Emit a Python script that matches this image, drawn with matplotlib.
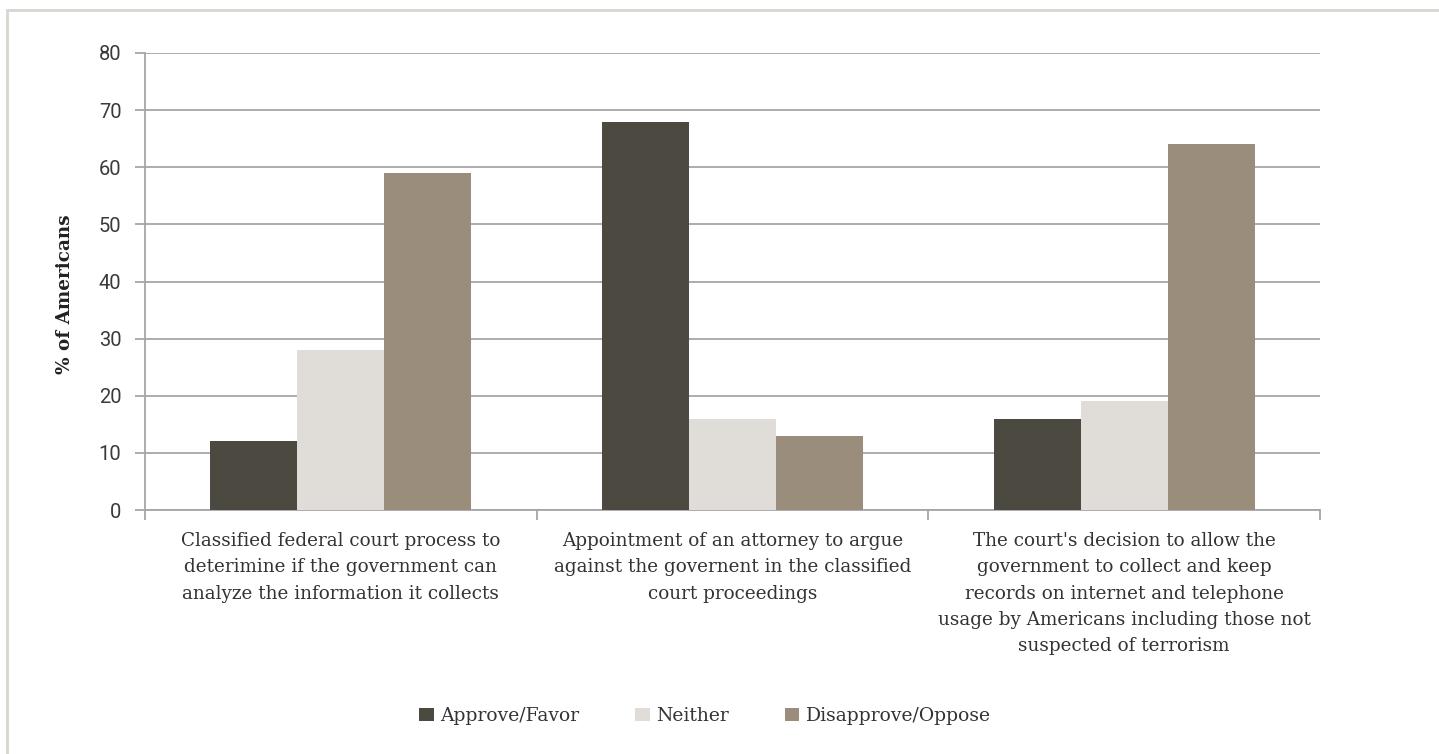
import matplotlib
matplotlib.use("Agg")
import matplotlib.pyplot as plt
import numpy as np
from matplotlib.patches import Rectangle

categories = [
    "Classified federal court process to\ndeterimine if the government can\nanalyze the information it collects",
    "Appointment of an attorney to argue\nagainst the governent in the classified\ncourt proceedings",
    "The court's decision to allow the\ngovernment to collect and keep\nrecords on internet and telephone\nusage by Americans including those not\nsuspected of terrorism",
]
series_names = ["Approve/Favor", "Neither", "Disapprove/Oppose"]
approve = [12, 68, 16]
neither = [28, 16, 19]
disapprove = [59, 13, 64]
yticks = [0, 10, 20, 30, 40, 50, 60, 70, 80]

colors = ["#4b4940", "#e0ddd8", "#9a8d7c"]
grid_c = "#a6a6a6"
serif = ["DejaVu Serif"]

fig = plt.figure(figsize=(14.39, 7.54), dpi=100)
fig.patch.set_facecolor("white")
W, H = 1439, 754
ax = fig.add_axes([145 / W, 1 - 510 / H, (1320 - 145) / W, (510 - 53) / H])

x = np.arange(len(categories))
bw = 0.222
for i, (vals, name) in enumerate(zip([approve, neither, disapprove], series_names)):
    ax.bar(x + (i - 1) * bw, vals, width=bw, color=colors[i], label=name, zorder=3)

ax.set_ylim(0, 80)
ax.set_xlim(-0.5, 2.5)
ax.set_yticks(yticks)
ax.set_yticklabels([str(v) for v in yticks], family="Roboto", fontweight="normal",
                   fontsize=14.5, color="#3a3a3a")
ax.yaxis.grid(True, color=grid_c, linewidth=1.3, zorder=0)
ax.set_axisbelow(True)
for s in ["top", "right"]:
    ax.spines[s].set_visible(False)
ax.spines["left"].set_color(grid_c)
ax.spines["left"].set_linewidth(1.3)
ax.spines["bottom"].set_color(grid_c)
ax.spines["bottom"].set_linewidth(1.3)
ax.tick_params(axis="y", length=7, width=1.3, color=grid_c, pad=10)

# x ticks at category boundaries
ax.set_xticks([-0.5, 0.5, 1.5, 2.5])
ax.set_xticklabels([])
ax.tick_params(axis="x", length=7, width=1.3, color=grid_c)
for xi, lab in zip(x, categories):
    ax.text(xi, -3.8, lab, ha="center", va="top", family=serif, fontsize=13.2,
            color="#333333", linespacing=1.6, transform=ax.transData)

ax.set_ylabel("% of Americans", family=serif, fontweight="bold", fontsize=13.2,
              color="#222222")
ax.yaxis.set_label_coords(-0.060, 0.473)

leg = fig.legend(loc="center", bbox_to_anchor=(0.49, 1 - 716 / H), ncol=3, frameon=False,
                 prop={"family": serif, "size": 13.5}, handlelength=0.75, handleheight=0.75,
                 handletextpad=0.35, columnspacing=3.0)
for t in leg.get_texts():
    t.set_color("#333333")

# outer frame
fig.add_artist(Rectangle((7 / W, -0.05), 1.2, 1 - 10 / H + 0.05, transform=fig.transFigure,
                         fill=False, edgecolor="#d9d5cf", linewidth=2))

fig.savefig("out.png", dpi=100)
